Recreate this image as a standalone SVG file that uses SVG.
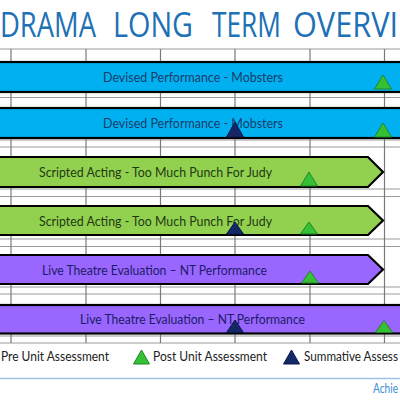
<svg xmlns="http://www.w3.org/2000/svg" width="400" height="400" viewBox="0 0 400 400">
<style>
.grid{stroke:#9a9a9a;stroke-width:1;fill:none}
.vgrid{stroke:#7a7a7a;stroke-width:1.2;fill:none}
.bar{stroke:#000;stroke-width:2.2}
.blue{fill:#00b0f0}
.green{fill:#92d050}
.purple{fill:#9966ff}
.lbl{font-family:Lato,"Open Sans","Liberation Sans",sans-serif;font-size:14px}
.lb{fill:#1b3d6b}
.lg{fill:#1f3a12}
.lp{fill:#1c1c66}
.post{fill:#35c035;stroke:#23862a;stroke-width:1}
.sum{fill:#142868;stroke:#0c1a4a;stroke-width:1}
.leg{font-family:Lato,"Open Sans","Liberation Sans",sans-serif;font-size:14px;fill:#222}
.title{font-family:"Open Sans",Lato,"Liberation Sans",sans-serif;font-size:34px;font-weight:500;fill:#2070b6}
</style>
<rect width="400" height="400" fill="#fff"/>
<text class="title" y="37"><tspan x="0" textLength="96" lengthAdjust="spacingAndGlyphs">DRAMA</tspan><tspan x="113" textLength="80" lengthAdjust="spacingAndGlyphs">LONG</tspan><tspan x="212" textLength="69" lengthAdjust="spacingAndGlyphs">TERM</tspan><tspan x="293" textLength="105" lengthAdjust="spacingAndGlyphs">OVERVI</tspan></text>
<g id="grid">
<path class="grid" d="M0 49H400M0 91H400M0 97.5H400M0 140H400M0 147H400M0 189H400M0 196.5H400M0 239H400M0 246.5H400M0 287H400M0 294H400M0 336H400M0 343H400"/>
<path class="vgrid" d="M11 49V343M86 49V343M160.5 49V343M235 49V343M310 49V343M384.5 49V343"/>
</g>
<g id="connectors"></g>
<g id="bar1">
<rect class="bar blue" x="-5" y="62" width="410" height="30"/>
<text class="lbl lb" x="103" y="82" textLength="180" lengthAdjust="spacingAndGlyphs">Devised Performance  - Mobsters</text>
<polygon class="post" points="383,75 391.5,89 374.5,89"/>
</g>
<g id="bar2">
<rect class="bar blue" x="-5" y="108" width="410" height="30"/>
<text class="lbl lb" x="103" y="128" textLength="180" lengthAdjust="spacingAndGlyphs">Devised Performance  - Mobsters</text>
<polygon class="sum" points="235,122 243.5,137 226.5,137"/>
<polygon class="post" points="383,123 391.5,137 374.5,137"/>
</g>
<g id="bar3">
<polygon class="bar green" points="-5,157 368,157 383,172 368,187 -5,187"/>
<text class="lbl lg" x="39" y="177" textLength="233" lengthAdjust="spacingAndGlyphs">Scripted Acting  - Too Much Punch For Judy</text>
<polygon class="post" points="309,172 317.5,186 300.5,186"/>
</g>
<g id="bar4">
<polygon class="bar green" points="-5,206 368,206 383,220.5 368,235 -5,235"/>
<text class="lbl lg" x="39" y="226" textLength="233" lengthAdjust="spacingAndGlyphs">Scripted Acting  - Too Much Punch For Judy</text>
<polygon class="sum" points="235,222 243.5,234 226.5,234"/>
<polygon class="post" points="309,222 317.5,234 300.5,234"/>
</g>
<g id="bar5">
<polygon class="bar purple" points="-5,255 368,255 383,269.5 368,284 -5,284"/>
<text class="lbl lp" x="42" y="275" textLength="225" lengthAdjust="spacingAndGlyphs">Live Theatre Evaluation – NT Performance</text>
<polygon class="post" points="310,271 318.5,283 301.5,283"/>
</g>
<g id="bar6">
<rect class="bar purple" x="-5" y="305" width="410" height="28.5"/>
<text class="lbl lp" x="80" y="324" textLength="225" lengthAdjust="spacingAndGlyphs">Live Theatre Evaluation – NT Performance</text>
<polygon class="sum" points="235,320 243.5,332.5 226.5,332.5"/>
<polygon class="post" points="384,320.5 392.5,332.5 375.5,332.5"/>
</g>
<g id="legend">
<text class="leg" x="1" y="361" textLength="108" lengthAdjust="spacingAndGlyphs">Pre Unit Assessment</text>
<polygon class="post" points="141.5,350 149.5,364 133.5,364"/>
<text class="leg" x="153" y="361" textLength="114" lengthAdjust="spacingAndGlyphs">Post Unit Assessment</text>
<polygon class="sum" points="291.5,350 299.5,364 283.5,364"/>
<text class="leg" x="304" y="361" textLength="94" lengthAdjust="spacingAndGlyphs">Summative Assess</text>
</g>
<line x1="0" y1="378.5" x2="400" y2="378.5" stroke="#9dc3e6" stroke-width="1.5"/>
<text x="373" y="393" font-family="Lato,'Open Sans','Liberation Sans',sans-serif" font-size="13.5" fill="#3a8fd2" textLength="25" lengthAdjust="spacingAndGlyphs">Achie</text>
</svg>
